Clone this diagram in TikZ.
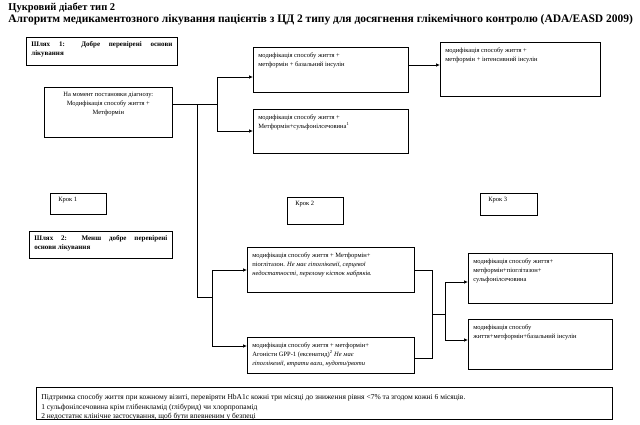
\documentclass[tikz,border=0pt]{standalone}
\usepackage{fontspec}
\setmainfont{Liberation Serif}
\usetikzlibrary{arrows.meta}

\newcommand{\boxfont}{\fontsize{6.5}{9}\selectfont}
\newcommand{\notefont}{\fontsize{7.5}{9.5}\selectfont}
\newcommand{\titlefont}{\fontsize{10.5}{12}\selectfont\bfseries}
\newcommand{\boxtext}[3]{\parbox[t][#2][t]{#1}{#3}}

\tikzset{
  box/.style={draw, anchor=north west, inner xsep=5pt, inner ysep=5pt, font=\boxfont},
  stepbox/.style={box, inner xsep=8pt, inner ysep=4pt},
  pathbox/.style={box, inner ysep=4pt, font=\fontsize{7}{9}\selectfont\bfseries},
  link/.style={-{Latex[length=4pt,width=3.5pt]}},
}

\begin{document}
\begin{tikzpicture}[x=1pt, y=-1pt, line width=0.7pt]

    \useasboundingbox (0,0) rectangle (640,424);

    % titles
    \node[anchor=base west, inner sep=0pt, font=\titlefont] (title) at (8,10) {Цукровий діабет тип 2};
    \node[anchor=base west, inner sep=0pt, font=\titlefont\fontsize{11.5}{12}\selectfont] (subtitle) at (8,22)
        {Алгоритм медикаментозного лікування пацієнтів з ЦД 2 типу для досягнення глікемічного контролю (ADA/EASD 2009)};

    % left column
    \node[pathbox] (path1) at (26,37) {\boxtext{141pt}{20pt}{Шлях 1: Добре перевірені основи\linebreak лікування}};
    \node[box] (init) at (44,87) {\boxtext{118pt}{40pt}{\centering На момент постановки діагнозу:\\ Модифікація способу життя +\\ Метформін}};
    \node[stepbox] (step1) at (50,193) {\boxtext{40pt}{13pt}{Крок 1}};
    \node[pathbox] (path2) at (29,231) {\boxtext{133pt}{19pt}{Шлях 2: Менш добре перевірені\linebreak основи лікування}};

    % step 2
    \node[box] (topA) at (253,47) {\boxtext{145pt}{35pt}{\raggedright модифікація способу життя +\\ метформін + базальний інсулін}};
    \node[box] (topB) at (253,109) {\boxtext{145pt}{34pt}{\raggedright модифікація способу життя +\\ Метформін+сульфонілсечовина\textsuperscript{1}}};
    \node[stepbox] (step2) at (287,197) {\boxtext{40pt}{19pt}{Крок 2}};
    \node[box] (midA) at (247,247) {\boxtext{157pt}{35pt}{\raggedright модифікація способу життя + Метформін+\\ піоглітазон. \textit{Не має гіпоглікемії, серцевої}\\ \textit{недостатності, перелому кісток набряків.}}};
    \node[box] (midB) at (247,337) {\boxtext{157pt}{26pt}{\raggedright модифікація способу життя + метформін+\\ Агоністи GPP-1 (ексенатид)\textsuperscript{2} \textit{Не має}\\ \textit{гіпоглікемії, втрати ваги, нудоти/рвоти}}};

    % step 3
    \node[box] (topR) at (440,42) {\boxtext{150pt}{44pt}{\raggedright модифікація способу життя +\\ метформін + інтенсивний інсулін}};
    \node[stepbox] (step3) at (480,193) {\boxtext{41pt}{14pt}{Крок 3}};
    \node[box] (rightA) at (468,253) {\boxtext{134pt}{40pt}{\raggedright модифікація способу життя+\\ метформін+піоглітазон+\\ сульфонілсечовина}};
    \node[box] (rightB) at (468,319) {\boxtext{134pt}{40pt}{\raggedright модифікація способу\\ життя+метформін+базальний інсулін}};

    % notes, last line cut by the frame
    \begin{scope}
        \clip (30,380) rectangle (620,419.4);
        \node[box, inner ysep=7pt, font=\notefont] (notes) at (36,387) {\boxtext{566pt}{18pt}{\raggedright
            Підтримка способу життя при кожному візиті, перевіряти HbA1c кожні три місяці до зниження рівня <7\% та згодом кожні 6 місяців.\\
            1 сульфонілсечовина крім глібенкламід (глібурид) чи хлорпропамід\\
            2 недостатнє клінічне застосування, щоб бути впевненим у безпеці}};
    \end{scope}

    % upper fork
    \coordinate (fork) at (197,104);
    \coordinate (upfork) at (217,104);
    \coordinate (up1) at (217,77);
    \coordinate (up2) at (217,131);
    \draw (init.east |- fork) -- (upfork);
    \draw (up1) -- (up2);
    \draw[link] (up1) -- (up1 -| topA.west);
    \draw[link] (up2) -- (up2 -| topB.west);

    % lower fork
    \coordinate (knee) at (197,297);
    \coordinate (lowfork) at (212,297);
    \coordinate (low1) at (212,270);
    \coordinate (low2) at (212,346);
    \draw (fork) -- (knee) -- (lowfork);
    \draw (low1) -- (low2);
    \draw[link] (low1) -- (low1 -| midA.west);
    \draw[link] (low2) -- (low2 -| midB.west);

    % to step 3
    \coordinate (outA) at (420,65);
    \draw[link] (topA.east |- outA) -- (topR.west |- outA);

    \coordinate (m1) at (432,270.5);
    \coordinate (m2) at (432,358);
    \coordinate (mm) at (432,314);
    \coordinate (rm) at (445,314);
    \coordinate (r1) at (445,282);
    \coordinate (r2) at (445,340);
    \draw (midA.east |- m1) -- (m1) -- (m2) -- (midB.east |- m2);
    \draw (mm) -- (rm);
    \draw (r1) -- (r2);
    \draw[link] (r1) -- (r1 -| rightA.west);
    \draw[link] (r2) -- (r2 -| rightB.west);

\end{tikzpicture}
\end{document}
